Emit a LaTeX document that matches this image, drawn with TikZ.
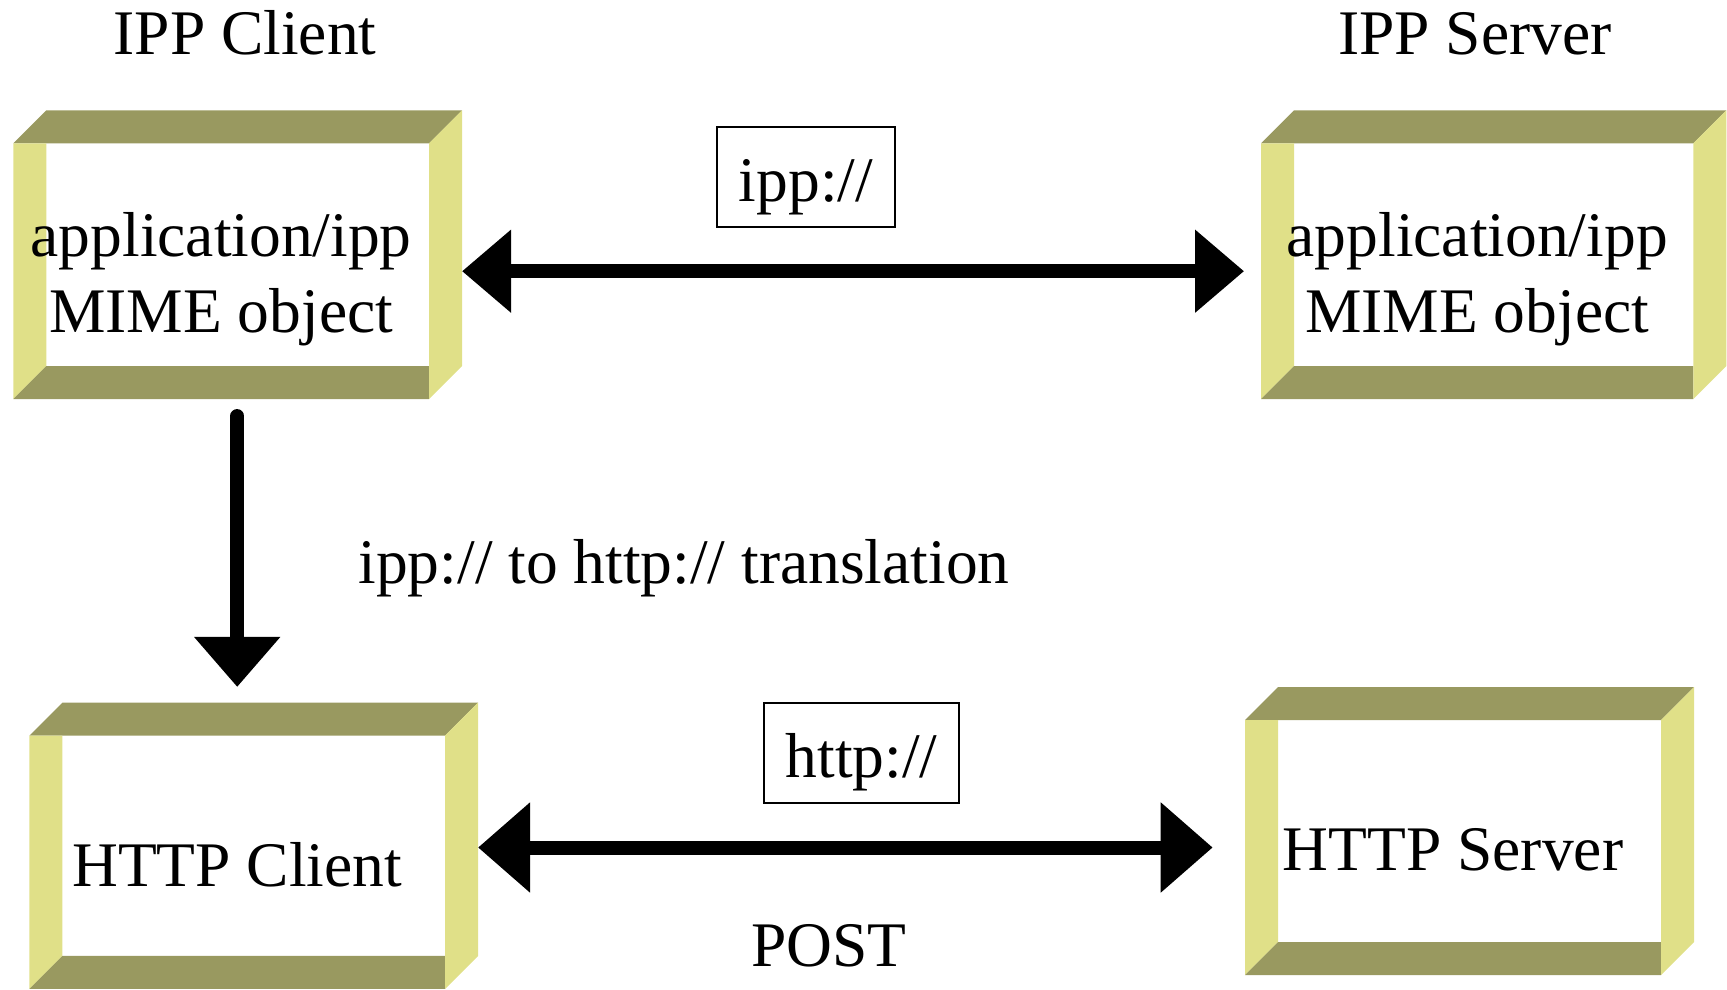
\documentclass[tikz,border=0pt]{standalone}
\usepackage{fontspec}
\setmainfont{Liberation Serif}
\usetikzlibrary{arrows.meta}
\definecolor{olv}{RGB}{153,153,96}
\definecolor{ylw}{RGB}{224,224,136}
\newcommand{\bevelfill}[1]{%
 \fill[olv] (#1.north west) -- ([shift={(33,-33)}]#1.north west) -- ([shift={(33,-33)}]#1.north east) -- (#1.north east) -- cycle;
 \fill[ylw] (#1.north west) -- ([shift={(33,0)}]#1.north west) -- ([shift={(33,-33)}]#1.south west) -- (#1.south west) -- cycle;
 \fill[olv] (#1.south west) -- ([shift={(33,-33)}]#1.south west) -- ([shift={(0,-33)}]#1.south east) -- (#1.south east) -- cycle;
 \fill[ylw] (#1.north east) -- ([shift={(33,-33)}]#1.north east) -- ([shift={(33,-33)}]#1.south east) -- (#1.south east) -- cycle;
}
\begin{document}
\begin{tikzpicture}[x=1pt,y=-1pt,
  face/.style={rectangle, inner sep=0pt, outer sep=0pt},
  txt/.style={inner sep=0pt, outer sep=0pt, anchor=base, font=\fontsize{63.5pt}{76pt}\selectfont},
  tag/.style={draw, line width=2pt, rectangle, inner sep=0pt},
  conn/.style={line width=14pt}
]
\useasboundingbox (0,0) rectangle (1727,990);
% box faces
\node[face, minimum width=415.7pt, minimum height=255.7pt] (box1) at (221.2,271.2) {};
\node[face, minimum width=432.3pt, minimum height=255.7pt] (box2) at (1477.2,271.2) {};
\node[face, minimum width=415.7pt, minimum height=253.3pt] (box3) at (237.2,862.3) {};
\node[face, minimum width=416pt, minimum height=255pt] (box4) at (1453,847.5) {};
\bevelfill{box1}
\bevelfill{box2}
\bevelfill{box3}
\bevelfill{box4}
% titles
\node[txt] (t1) at (245,55) {IPP Client};
\node[txt] (t2) at (1475,55) {IPP Server};
% box texts
\node[txt] (b1a) at (221.2,256.7) {application/ipp};
\node[txt] (b1b) at (221.2,332.3) {MIME object};
\node[txt] (b2a) at (1477.2,256.7) {application/ipp};
\node[txt] (b2b) at (1477.2,332.3) {MIME object};
\node[txt] (b3) at (237.2,886.7) {HTTP Client};
\node[txt] (b4) at (1453,870) {HTTP Server};
% protocol tags
\node[tag, minimum width=178pt, minimum height=100pt] (ipptag) at (806,177.3) {};
\node[txt] (ipptxt) at (806,201.5) {ipp://};
\node[tag, minimum width=195pt, minimum height=99.4pt] (httptag) at (861.5,753) {};
\node[txt] (httptxt) at (861.5,777) {http://};
% other labels
\node[txt] (trans) at (684,583) {ipp:// to http:// translation};
\node[txt] (post) at (829,966.7) {POST};
% connectors
\draw[conn, {Triangle[length=49pt,width=80pt]}-{Triangle[length=49pt,width=80pt]}]
  ([xshift=33pt]box1.east) -- ([xshift=-17pt]box2.west);
\coordinate (bl) at (box3.east |- box4.west);
\draw[conn, {Triangle[length=52pt,width=87pt]}-{Triangle[length=52pt,width=87pt]}]
  ([xshift=33pt]bl) -- ([xshift=-32.3pt]box4.west);
\coordinate (ds) at (box3.north |- box1.south);
\draw[conn, line cap=round, -{Triangle[length=50pt,width=83pt]}]
  ([yshift=-17pt]ds) -- ([yshift=48.7pt]box3.north);
\end{tikzpicture}
\end{document}
